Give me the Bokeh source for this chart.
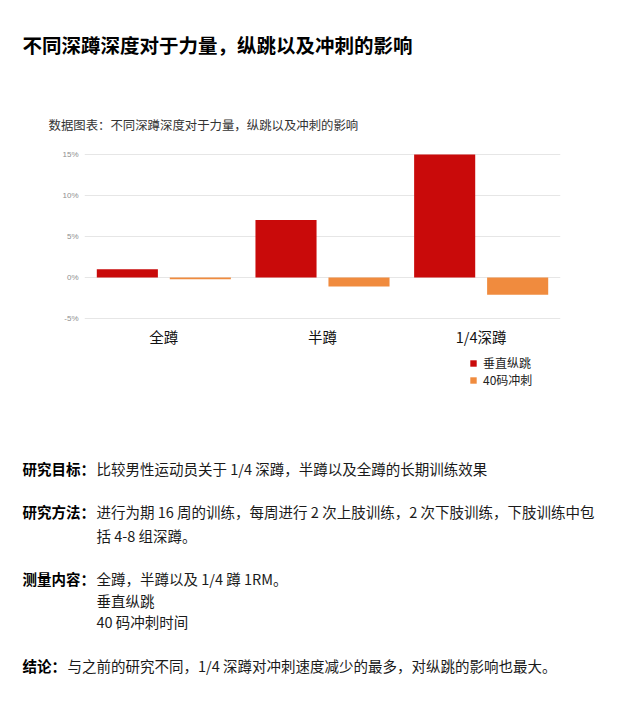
from bokeh.plotting import figure
from bokeh.models import (Range1d, FactorRange, Label, Legend, LegendItem,
                          ColumnDataSource, FixedTicker)
from bokeh.layouts import column
from bokeh.transform import dodge
from bokeh.embed import file_html
from bokeh.resources import INLINE

# ---- data ----
categories = ["全蹲", "半蹲", "1/4深蹲"]
vertical_jump = [1.0, 7.0, 15.0]      # 垂直纵跳 (%)
sprint_40yd = [-0.2, -1.1, -2.1]      # 40码冲刺 (%)
series_names = ["垂直纵跳", "40码冲刺"]
y_ticks = [-5, 0, 5, 10, 15]
y_tick_labels = ["-5%", "0%", "5%", "10%", "15%"]

title_text = "不同深蹲深度对于力量，纵跳以及冲刺的影响"
subtitle_text = "数据图表：不同深蹲深度对于力量，纵跳以及冲刺的影响"

RED = "#c90a0a"
ORANGE = "#f08b3e"
CJK = "Noto Sans CJK SC"

W = 614
HEAD_H, CHART_H = 145, 204
BODY_TOP = HEAD_H + CHART_H
BODY_H = 694 - BODY_TOP


def text_fig(top, height):
    f = figure(width=W, height=height, x_range=Range1d(0, W),
               y_range=Range1d(top + height, top),
               x_axis_type=None, y_axis_type=None,
               output_backend="svg", toolbar_location=None,
               frame_align=False,
               min_border=0, min_border_left=0, min_border_right=0,
               min_border_top=0, min_border_bottom=0)
    f.outline_line_color = None
    f.xgrid.visible = False
    f.ygrid.visible = False
    return f


def add_text(f, txt, px, py, size, bold=False, color="#1a1a1a"):
    f.add_layout(Label(x=px, y=py, text=txt, text_font=CJK, text_font_size=size,
                       text_font_style="bold" if bold else "normal",
                       text_color=color, text_baseline="middle", text_align="left"))


# ---- header ----
head = text_fig(0, HEAD_H)
add_text(head, title_text, 22, 44, "19.5px", bold=True, color="#000000")
add_text(head, subtitle_text, 48, 124, "12.4px", color="#333333")

# ---- chart ----
src = ColumnDataSource(dict(cat=categories, jump=vertical_jump, sprint=sprint_40yd))

p = figure(width=W, height=CHART_H,
           x_range=FactorRange(*categories),
           y_range=Range1d(-5.48, 15.48),
           output_backend="svg", toolbar_location=None,
           frame_align=False,
           min_border_left=84, min_border_right=W - 560,
           min_border_top=150 - HEAD_H, min_border_bottom=BODY_TOP - 325)
p.outline_line_color = None

r1 = p.vbar(x=dodge("cat", -0.23, range=p.x_range), top="jump", width=0.385,
            source=src, fill_color=RED, line_color=None)
r2 = p.vbar(x=dodge("cat", 0.23, range=p.x_range), top="sprint", width=0.385,
            source=src, fill_color=ORANGE, line_color=None)

p.xgrid.visible = False
p.ygrid.ticker = FixedTicker(ticks=y_ticks)
p.ygrid.grid_line_color = "#e6e6e6"

p.yaxis.ticker = FixedTicker(ticks=y_ticks)
p.yaxis.major_label_overrides = {t: l for t, l in zip(y_ticks, y_tick_labels)}
p.yaxis.axis_line_color = None
p.yaxis.major_tick_line_color = None
p.yaxis.minor_tick_line_color = None
p.yaxis.major_tick_out = 0
p.yaxis.minor_tick_out = 0
p.yaxis.major_label_standoff = 6
p.yaxis.major_label_text_font = "Liberation Sans"
p.yaxis.major_label_text_font_size = "8px"
p.yaxis.major_label_text_color = "#8f8f8f"

p.xaxis.axis_line_color = None
p.xaxis.major_tick_line_color = None
p.xaxis.minor_tick_line_color = None
p.xaxis.major_tick_out = 0
p.xaxis.minor_tick_out = 0
p.xaxis.major_label_standoff = 3
p.xaxis.major_label_text_font = CJK
p.xaxis.major_label_text_font_size = "14.5px"
p.xaxis.major_label_text_color = "#111111"

# ---- body text (with legend for the chart series) ----
body = text_fig(BODY_TOP, BODY_H)
# hidden proxies that only give the legend its swatches
proxy_src = ColumnDataSource(dict(x=list(range(len(categories))),
                                  jump=vertical_jump, sprint=sprint_40yd))
l1 = body.vbar(x="x", top="jump", width=0.1, source=proxy_src,
               fill_color=RED, line_color=None, visible=False)
l2 = body.vbar(x="x", top="sprint", width=0.1, source=proxy_src,
               fill_color=ORANGE, line_color=None, visible=False)
legend = Legend(items=[LegendItem(label=series_names[0], renderers=[l1]),
                       LegendItem(label=series_names[1], renderers=[l2])],
                location=(469, BODY_H - 39), orientation="vertical",
                glyph_width=8, glyph_height=8, label_height=12, spacing=0,
                padding=0, margin=0, label_standoff=6,
                border_line_color=None, background_fill_alpha=0,
                inactive_fill_alpha=0,
                label_text_font=CJK, label_text_font_size="12px",
                label_text_color="#222222")
body.add_layout(legend)

bs = "14.5px"
add_text(body, "研究目标：", 22, 468, bs, bold=True, color="#000000")
add_text(body, "比较男性运动员关于 1/4 深蹲，半蹲以及全蹲的长期训练效果", 96, 468, bs)
add_text(body, "研究方法：", 22, 511, bs, bold=True, color="#000000")
add_text(body, "进行为期 16 周的训练，每周进行 2 次上肢训练，2 次下肢训练，下肢训练中包", 96, 511, bs)
add_text(body, "括 4-8 组深蹲。", 96, 535, bs)
add_text(body, "测量内容：", 22, 578, bs, bold=True, color="#000000")
add_text(body, "全蹲，半蹲以及 1/4 蹲  1RM。", 96, 578, bs)
add_text(body, "垂直纵跳", 96, 600, bs)
add_text(body, "40 码冲刺时间", 96, 621, bs)
add_text(body, "结论：", 22, 665, bs, bold=True, color="#000000")
add_text(body, "与之前的研究不同，1/4 深蹲对冲刺速度减少的最多，对纵跳的影响也最大。", 67, 665, bs)

layout = column(head, p, body, spacing=0)
open("out.html", "w").write(file_html(layout, INLINE))
